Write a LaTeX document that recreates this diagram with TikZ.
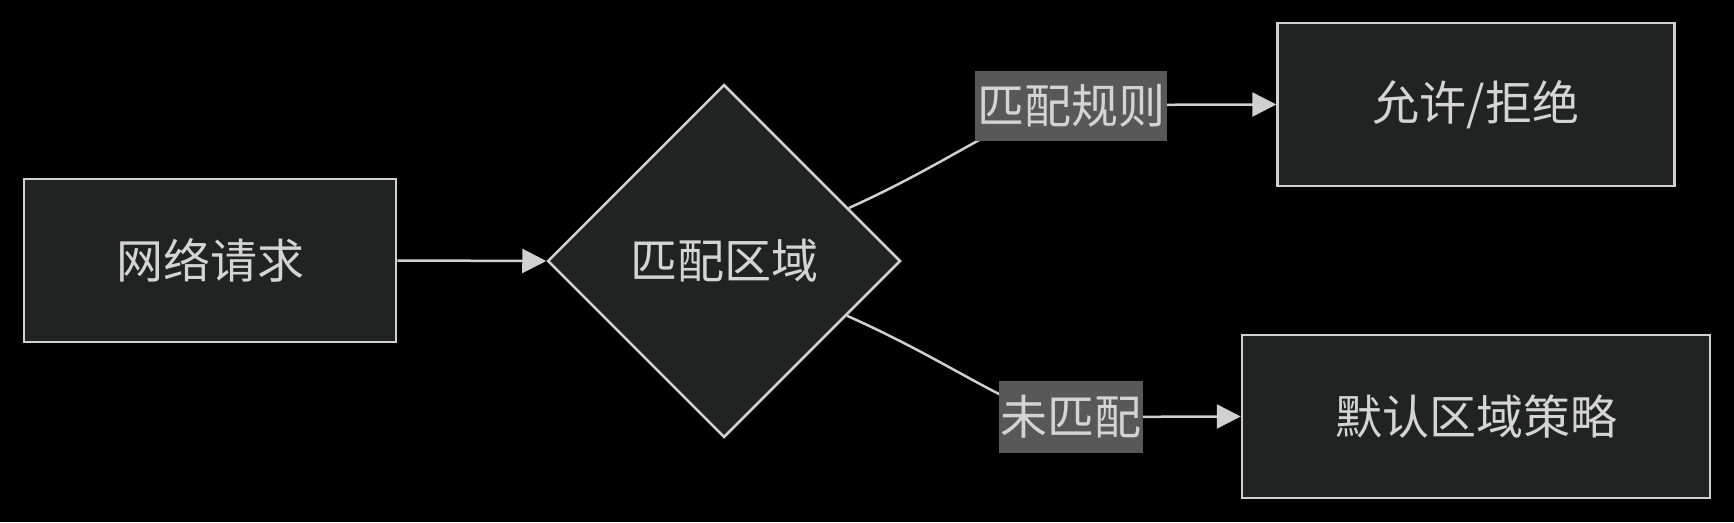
\documentclass[tikz,border=0pt]{standalone}
\usepackage{fontspec}
\newfontfamily\cjk{Noto Sans CJK SC}
\usetikzlibrary{shapes.geometric,arrows.meta}
\definecolor{nodefill}{RGB}{33,35,34}
\definecolor{edgecol}{RGB}{208,208,208}
\definecolor{labfill}{RGB}{88,88,88}
\definecolor{txt}{RGB}{212,212,212}
\begin{document}
\begin{tikzpicture}[x=1pt,y=-1pt,
  box/.style={draw=edgecol, line width=2.5pt, fill=nodefill, text=txt,
    font=\cjk\fontsize{47}{52}\selectfont, inner sep=0pt},
  dia/.style={diamond, aspect=1, draw=edgecol, line width=2.5pt, fill=nodefill, text=txt,
    font=\cjk\fontsize{47}{52}\selectfont, inner sep=0pt, minimum width=353pt, minimum height=353pt},
  lab/.style={fill=labfill, text=txt, font=\cjk\fontsize{47}{52}\selectfont, inner sep=0pt},
  edge/.style={draw=edgecol, line width=2.5pt, -{Triangle[length=24pt,width=24pt]}}]
\fill[black] (0,0) rectangle (1734,522);
\useasboundingbox (0,0) rectangle (1734,522);
\node[box, minimum width=372pt, minimum height=163pt] (req) at (210,260.5) {网络请求};
\node[dia] (zone) at (724,261) {匹配区域};
\node[box, minimum width=397pt, minimum height=163pt] (act) at (1476,104.5) {允许/拒绝};
\node[box, minimum width=468pt, minimum height=163pt] (def) at (1476,416.5) {默认区域策略};
\coordinate (c1) at (1071,105.5);
\coordinate (c2) at (1071,417);
\draw[edge] (req.east) -- (zone.west);
\draw[edge] (zone.23) .. controls (960,158) and (1020,106) .. (c1) .. controls (1130,105) and (1200,104.5) .. (act.west);
\draw[edge] (zone.-24) .. controls (960,366) and (1020,417) .. (c2) .. controls (1130,417) and (1200,416.5) .. (def.west);
\node[lab, minimum width=192pt, minimum height=70pt] (l1) at (c1) {匹配规则};
\node[lab, minimum width=144pt, minimum height=72pt] (l2) at (c2) {未匹配};
\end{tikzpicture}
\end{document}
